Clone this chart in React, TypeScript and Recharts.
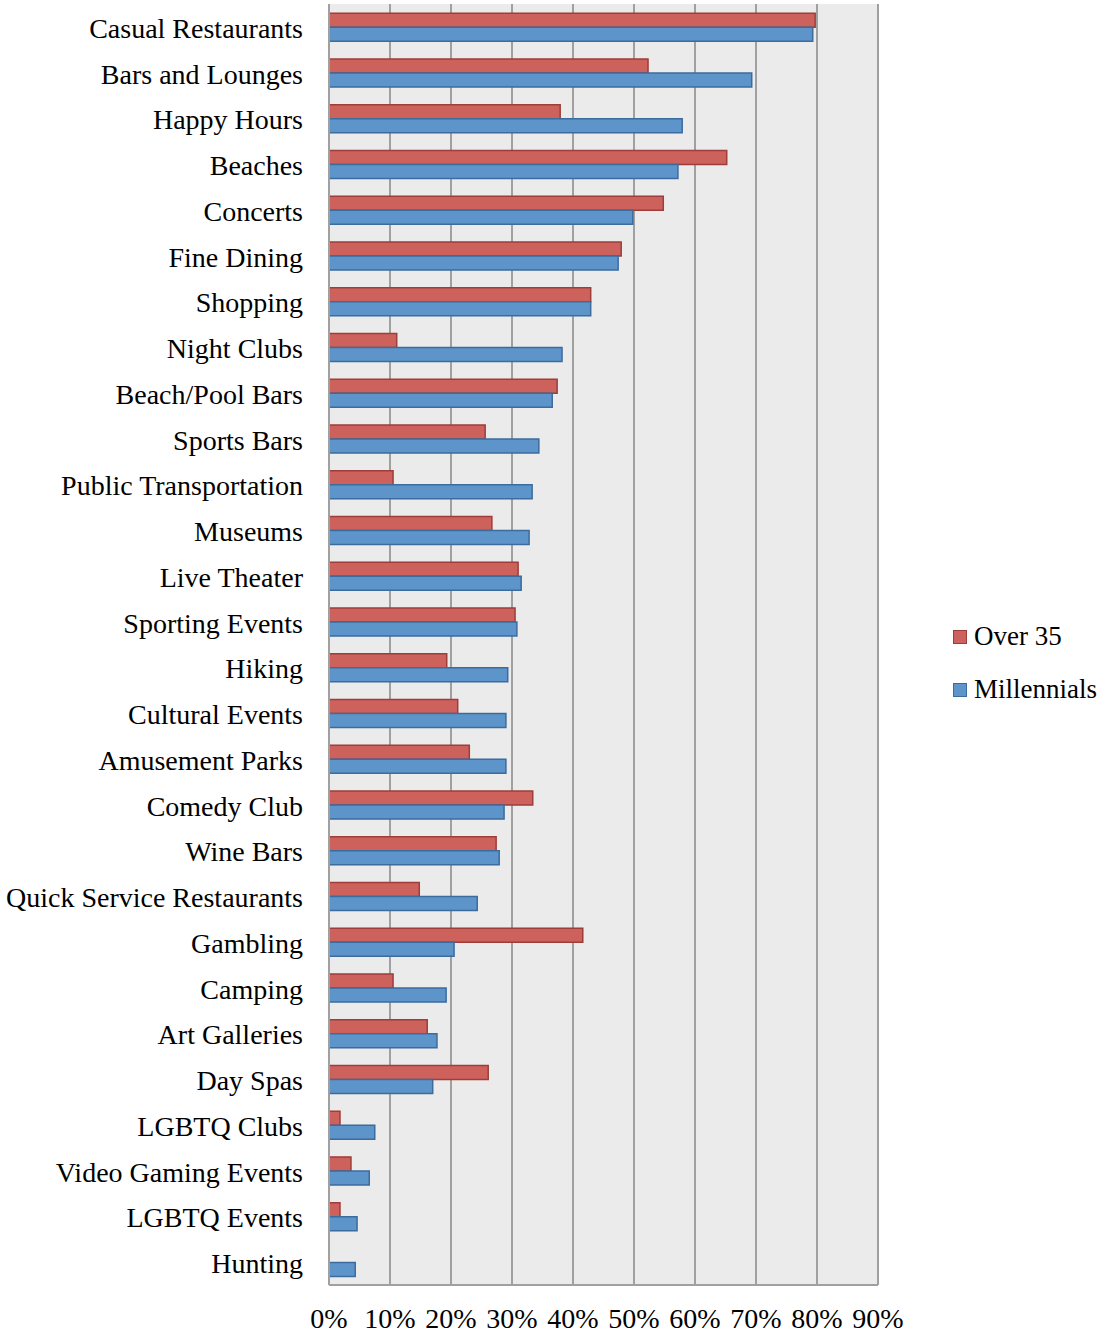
import React from "react";
import { Bar, BarChart, CartesianGrid, Legend, XAxis, YAxis } from "recharts";

const categories = [
	"Casual Restaurants",
	"Bars and Lounges",
	"Happy Hours",
	"Beaches",
	"Concerts",
	"Fine Dining",
	"Shopping",
	"Night Clubs",
	"Beach/Pool Bars",
	"Sports Bars",
	"Public Transportation",
	"Museums",
	"Live Theater",
	"Sporting Events",
	"Hiking",
	"Cultural Events",
	"Amusement Parks",
	"Comedy Club",
	"Wine Bars",
	"Quick Service Restaurants",
	"Gambling",
	"Camping",
	"Art Galleries",
	"Day Spas",
	"LGBTQ Clubs",
	"Video Gaming Events",
	"LGBTQ Events",
	"Hunting",
];

const over35 = [
	79.7, 52.3, 37.9, 65.2, 54.8, 47.9, 42.9, 11.1, 37.4, 25.6, 10.5, 26.7, 31.0, 30.5, 19.3, 21.1, 23.0, 33.4, 27.4,
	14.8, 41.6, 10.5, 16.1, 26.1, 1.8, 3.6, 1.8, 0,
];

const millennials = [
	79.3, 69.3, 57.9, 57.2, 49.8, 47.4, 42.9, 38.2, 36.6, 34.4, 33.3, 32.8, 31.5, 30.8, 29.3, 29.0, 29.0, 28.7, 27.9,
	24.3, 20.5, 19.2, 17.7, 17.0, 7.5, 6.6, 4.6, 4.3,
];

const xTicks = [0, 10, 20, 30, 40, 50, 60, 70, 80, 90];

const seriesNames = ["Over 35", "Millennials"];
const seriesColors = ["#cd625c", "#5d94ca"];
const seriesBorders = ["#9e3d39", "#3c6b9d"];

const data = categories.map((name, i) => ({
	name,
	over35: over35[i],
	millennials: millennials[i],
}));

const FONT = "'Liberation Serif', serif";

const renderLegend = () => (
	<div style={{ fontFamily: FONT }}>
		{seriesNames.map((s, i) => (
			<div key={s} style={{ display: "flex", alignItems: "center", height: 53 }}>
				<span
					style={{
						width: 12,
						height: 12,
						background: seriesColors[i],
						border: `1.5px solid ${seriesBorders[i]}`,
						marginRight: 7,
						display: "inline-block",
					}}
				/>
				<span style={{ fontSize: 27, color: "#000" }}>{s}</span>
			</div>
		))}
	</div>
);

export default function App() {
	return (
		<div style={{ position: "absolute", left: 0, top: 0, width: 1103, height: 1335, background: "#fff", fontFamily: FONT }}>
			<BarChart
				width={1103}
				height={1335}
				data={data}
				layout="vertical"
				// legend takes 150px off the right on its own
				margin={{ top: 4, right: 75, left: 0, bottom: 0 }}
				barCategoryGap="20%"
				barGap={0}
			>
				<CartesianGrid horizontal={false} fill="#ebebeb" stroke="#a0a0a0" strokeWidth={2} />
				<XAxis
					type="number"
					domain={[0, 90]}
					ticks={xTicks}
					interval={0}
					height={50}
					axisLine={{ stroke: "#a0a0a0", strokeWidth: 2 }}
					tickLine={false}
					tickMargin={17}
					tick={{ fontSize: 28, fill: "#000", fontFamily: FONT }}
					tickFormatter={(v) => `${v}%`}
				/>
				<YAxis
					type="category"
					dataKey="name"
					width={329}
					interval={0}
					axisLine={{ stroke: "#a0a0a0", strokeWidth: 2 }}
					tickLine={false}
					tickMargin={20}
					tick={{ fontSize: 28, fill: "#000", fontFamily: FONT, dy: 1 }}
				/>
				<Legend
					layout="vertical"
					align="right"
					verticalAlign="middle"
					content={renderLegend}
					wrapperStyle={{ position: "absolute", left: 953, top: 610, width: 150 }}
				/>
				<Bar
					dataKey="over35"
					name={seriesNames[0]}
					fill={seriesColors[0]}
					stroke={seriesBorders[0]}
					strokeWidth={1.5}
					isAnimationActive={false}
				/>
				<Bar
					dataKey="millennials"
					name={seriesNames[1]}
					fill={seriesColors[1]}
					stroke={seriesBorders[1]}
					strokeWidth={1.5}
					isAnimationActive={false}
				/>
			</BarChart>
		</div>
	);
}
